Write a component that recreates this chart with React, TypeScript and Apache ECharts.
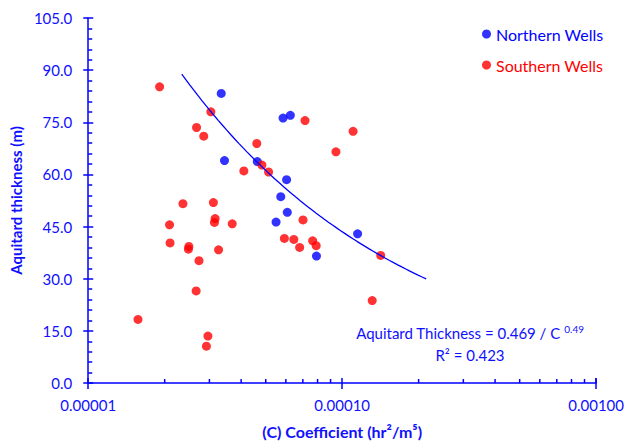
import React, { useEffect, useRef } from "react";
import * as echarts from "echarts";

// Northern Wells (blue)
const NORTH_C = [3.34e-5, 5.85e-5, 6.25e-5, 3.44e-5, 4.63e-5, 6.04e-5, 5.73e-5, 6.08e-5, 5.49e-5, 7.92e-5, 1.15e-4];
const NORTH_T = [83.3, 76.2, 77.0, 64.0, 63.7, 58.5, 53.6, 49.1, 46.3, 36.5, 42.9];

// Southern Wells (red)
const SOUTH_C = [
  1.91e-5, 3.04e-5, 7.14e-5, 2.67e-5, 2.85e-5, 4.61e-5, 4.83e-5, 4.10e-5, 5.13e-5, 2.36e-5,
  3.11e-5, 1.104e-4, 9.45e-5, 3.16e-5, 3.14e-5, 3.69e-5, 2.09e-5, 2.10e-5, 2.49e-5, 2.48e-5,
  3.26e-5, 2.73e-5, 2.66e-5, 1.57e-5, 2.96e-5, 2.92e-5, 7.01e-5, 5.92e-5, 6.45e-5, 6.80e-5,
  7.65e-5, 7.90e-5, 1.418e-4, 1.313e-4,
];
const SOUTH_T = [
  85.2, 78.0, 75.5, 73.5, 71.0, 68.9, 62.7, 61.0, 60.7, 51.6,
  51.9, 72.4, 66.5, 47.3, 46.2, 45.8, 45.5, 40.3, 39.3, 38.5,
  38.3, 35.2, 26.5, 18.3, 13.5, 10.6, 46.9, 41.6, 41.3, 39.0,
  40.9, 39.5, 36.7, 23.7,
];

// Power-law trend line (fitted): T = A / C^B, drawn between C_START and C_END
const TREND_A = 0.4737;
const TREND_B = 0.4908;
const TREND_C_START = 2.335e-5;
const TREND_C_END = 2.142e-4;
const TREND_STEPS = 60;

// Minor ticks on the log x axis
const X_MINOR_TICKS = [2e-5, 3e-5, 4e-5, 5e-5, 6e-5, 7e-5, 8e-5, 9e-5, 2e-4, 3e-4, 4e-4, 5e-4, 6e-4, 7e-4, 8e-4, 9e-4];

const Y_MIN = 0;
const Y_MAX = 105;
const Y_INTERVAL = 15;
const X_MIN = 1e-5;
const X_MAX = 1e-3;

const BLUE = "#0000ff";
const RED = "#ff0000";
const TEXT = "#1010ff";
const FONT = "Lato";

export default function App() {
  const ref = useRef<HTMLDivElement>(null);

  useEffect(() => {
    if (!ref.current) return;
    const chart = echarts.init(ref.current, null, { renderer: "svg" });

    const north = NORTH_C.map((c, i) => [c, NORTH_T[i]]);
    const south = SOUTH_C.map((c, i) => [c, SOUTH_T[i]]);
    const trend: number[][] = [];
    const l0 = Math.log10(TREND_C_START);
    const l1 = Math.log10(TREND_C_END);
    for (let i = 0; i <= TREND_STEPS; i++) {
      const c = Math.pow(10, l0 + ((l1 - l0) * i) / TREND_STEPS);
      trend.push([c, TREND_A / Math.pow(c, TREND_B)]);
    }

    const lineStyle = { color: BLUE, width: 1.5 };

    chart.setOption({
      animation: false,
      textStyle: { fontFamily: FONT },
      grid: { left: 86, right: 29, top: 18, bottom: 59, containLabel: false },
      legend: {
        orient: "vertical",
        left: 477,
        top: 21,
        itemGap: 15,
        itemWidth: 9,
        itemHeight: 9,
        icon: "circle",
        textStyle: { fontSize: 16, fontFamily: FONT },
        data: [
          { name: "Northern Wells", textStyle: { color: BLUE } },
          { name: "Southern Wells", textStyle: { color: RED } },
        ],
      },
      xAxis: [
        {
          type: "log",
          logBase: 10,
          min: X_MIN,
          max: X_MAX,
          position: "bottom",
          axisLine: { show: true, lineStyle },
          axisTick: { show: true, inside: false, length: 6, lineStyle },
          axisLabel: {
            color: TEXT,
            fontSize: 15,
            fontFamily: FONT,
            margin: 14,
            formatter: (v: number) => v.toFixed(5),
          },
          splitLine: { show: false },
          name: "(C) Coefficient (hr\u00B2/m\u2075)",
          nameLocation: "middle",
          nameGap: 40,
          nameTextStyle: { color: TEXT, fontSize: 16, fontWeight: "bold", fontFamily: FONT },
        },
        {
          type: "log",
          logBase: 10,
          min: X_MIN,
          max: X_MAX,
          position: "bottom",
          offset: 0,
          axisLine: { show: false },
          axisTick: { show: true, inside: true, length: 5, lineStyle },
          axisLabel: { show: false },
          splitLine: { show: false },
        },
      ],
      yAxis: [
        {
          type: "value",
          min: Y_MIN,
          max: Y_MAX,
          interval: Y_INTERVAL,
          position: "left",
          axisLine: { show: true, lineStyle },
          axisTick: { show: true, inside: false, length: 5, lineStyle },
          axisLabel: {
            color: TEXT,
            fontSize: 15,
            fontFamily: FONT,
            margin: 16,
            formatter: (v: number) => v.toFixed(1),
          },
          splitLine: { show: false },
          name: "Aquitard thickness (m)",
          nameLocation: "middle",
          nameGap: 61,
          nameTextStyle: { color: TEXT, fontSize: 15, fontWeight: "bold", fontFamily: FONT },
        },
        {
          type: "value",
          min: Y_MIN,
          max: Y_MAX,
          interval: Y_INTERVAL,
          position: "left",
          offset: 0,
          axisLine: { show: false },
          axisTick: { show: true, inside: true, length: 5, lineStyle },
          minorTick: { show: true, splitNumber: 5, length: 4, lineStyle },
          axisLabel: { show: false },
          splitLine: { show: false },
          minorSplitLine: { show: false },
        },
      ],
      graphic: [
        {
          type: "text",
          x: 470,
          y: 333,
          style: {
            text: "{a|Aquitard Thickness = 0.469 / C }{s|0.49}",
            rich: {
              a: { fontSize: 15, fontFamily: FONT, fill: TEXT, color: TEXT, lineHeight: 18 },
              s: { fontSize: 10, fontFamily: FONT, fill: TEXT, color: TEXT, verticalAlign: "top", lineHeight: 18 },
            },
            align: "center",
            textAlign: "center",
            verticalAlign: "middle",
            textVerticalAlign: "middle",
          },
        },
        {
          type: "text",
          x: 470,
          y: 355,
          style: {
            text: "R\u00B2 = 0.423",
            font: `15px ${FONT}`,
            fill: TEXT,
            align: "center",
            textAlign: "center",
            verticalAlign: "middle",
            textVerticalAlign: "middle",
          },
        },
      ],
      series: [
        {
          name: "Northern Wells",
          type: "scatter",
          xAxisIndex: 0,
          yAxisIndex: 0,
          data: north,
          symbol: "circle",
          symbolSize: 9,
          itemStyle: { color: BLUE },
          z: 2,
        },
        {
          name: "Southern Wells",
          type: "scatter",
          xAxisIndex: 0,
          yAxisIndex: 0,
          data: south,
          symbol: "circle",
          symbolSize: 9,
          itemStyle: { color: RED },
          z: 2,
        },
        {
          name: "Trend",
          type: "line",
          xAxisIndex: 0,
          yAxisIndex: 0,
          data: trend,
          showSymbol: false,
          symbol: "none",
          lineStyle: { color: BLUE, width: 1.3 },
          itemStyle: { color: BLUE },
          silent: true,
          z: 3,
        },
        {
          name: "xMinor",
          type: "custom",
          xAxisIndex: 0,
          yAxisIndex: 0,
          silent: true,
          clip: false,
          z: 4,
          data: X_MINOR_TICKS.map((v) => [v, Y_MIN]),
          renderItem: (_params: any, api: any) => {
            const p = api.coord([api.value(0), api.value(1)]);
            return {
              type: "line",
              shape: { x1: p[0], y1: p[1], x2: p[0], y2: p[1] - 4 },
              style: { stroke: BLUE, lineWidth: 1.5 },
            };
          },
        },
      ],
    });

    return () => chart.dispose();
  }, []);

  return (
    <div
      ref={ref}
      style={{ position: "absolute", left: 0, top: 0, width: 627, height: 444, background: "#fff" }}
    />
  );
}
